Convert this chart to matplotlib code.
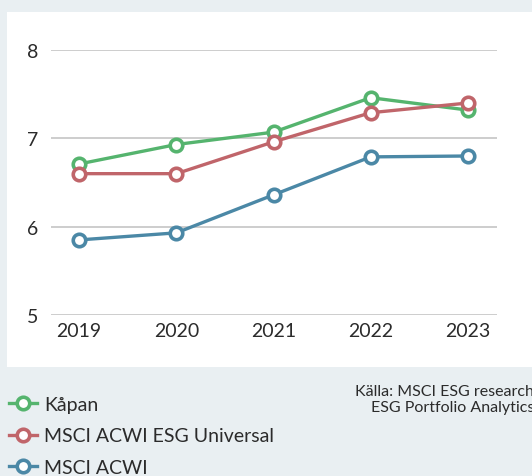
import matplotlib
matplotlib.use('Agg')
import matplotlib.pyplot as plt
from matplotlib.patches import Rectangle

# data
years = [2019, 2020, 2021, 2022, 2023]
kapan = [6.71, 6.93, 7.07, 7.46, 7.32]
esg_universal = [6.60, 6.60, 6.96, 7.29, 7.40]
acwi = [5.85, 5.93, 6.36, 6.79, 6.80]
series_names = ['Kåpan', 'MSCI ACWI ESG Universal', 'MSCI ACWI']
y_ticks = [5, 6, 7, 8]

colors = ['#55b46e', '#c0656a', '#4b88a6']
bg = '#e9eff2'

plt.rcParams['font.family'] = ['Lato', 'DejaVu Sans']

W, H = 532, 477
fig = plt.figure(figsize=(W / 100, H / 100), dpi=100, facecolor=bg)

# white panel behind the plot
fig.patches.append(Rectangle((7 / W, 1 - 368 / H), 1, (368 - 13) / H,
                             transform=fig.transFigure, facecolor='white',
                             edgecolor='none', zorder=-5))

ax = fig.add_axes([51 / W, 1 - 316 / H, (497 - 51) / W, (316 - 51) / H])
ax.set_facecolor('none')
ax.set_zorder(2)

handles = []
for vals, col, name in zip([kapan, esg_universal, acwi], colors, series_names):
    h, = ax.plot(years, vals, color=col, lw=2.4, marker='o', ms=9,
                 mfc='white', mec=col, mew=2.6, label=name, clip_on=False,
                 zorder=3)
    handles.append(h)

ax.set_xlim(2018.71, 2023.30)
ax.set_ylim(5, 8)
ax.set_yticks(y_ticks)
ax.set_xticks(years)
ax.grid(axis='y', color='#c9c9c9', lw=1.3)
ax.set_axisbelow(True)
for s in ax.spines.values():
    s.set_visible(False)
ax.tick_params(length=0, labelsize=14, colors='#2b2b2b', pad=5)
ax.tick_params(axis='y', pad=9)

fig.legend(handles=handles, loc='upper left', bbox_to_anchor=(0.003, 1 - 389 / H),
           frameon=False, fontsize=14, handlelength=1.4, handletextpad=0.4,
           labelspacing=0.75, borderaxespad=0, labelcolor='#2b2b2b')

fig.text(1 + 2 / W, 1 - 400 / H, 'Källa: MSCI ESG research\nESG Portfolio Analytics',
         ha='right', va='center', fontsize=11.5, color='#2b2b2b', linespacing=1.2,
         multialignment='right')

fig.savefig('out.png', dpi=100, facecolor=bg)
